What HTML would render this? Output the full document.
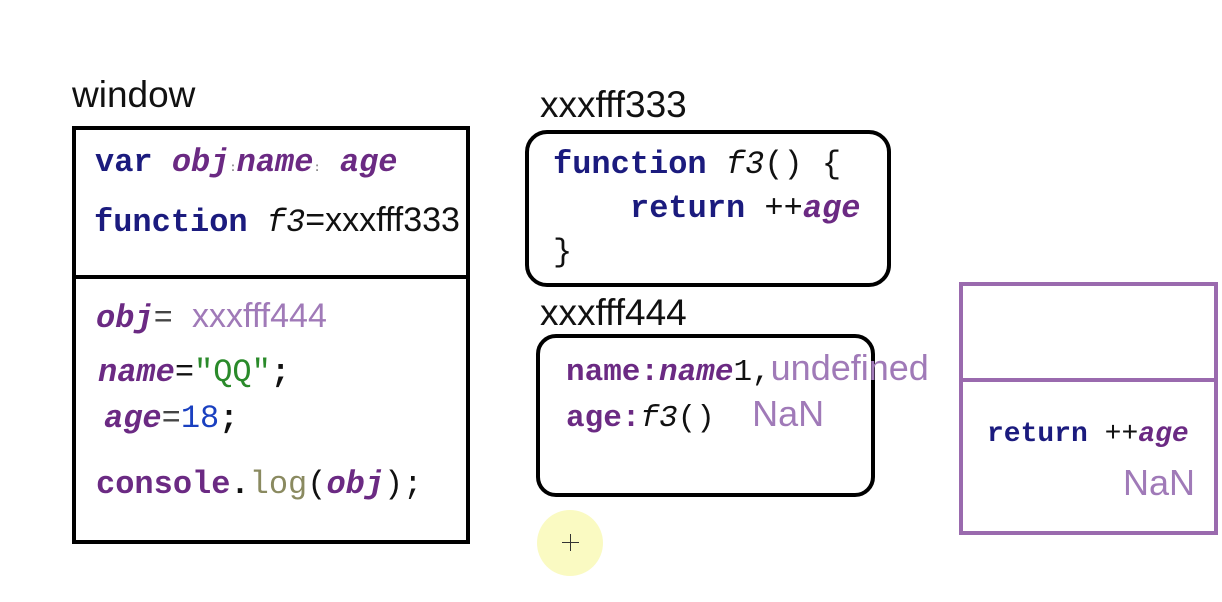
<!DOCTYPE html>
<html><head><meta charset="utf-8"><style>
body{margin:0;width:1222px;height:602px;background:#fff;position:relative;overflow:hidden;font-family:"Liberation Sans",sans-serif}
.a{position:absolute;white-space:pre}
.c{font-family:"Liberation Mono",monospace;font-weight:bold;font-size:32px;letter-spacing:0px}
.k{color:#1b1b7e}.v{color:#6b2a83;font-style:italic}.p{color:#6b2a83}
.l{color:#a07ab8;font-family:"Liberation Sans",sans-serif;font-weight:normal;font-size:34px;letter-spacing:0}
.s{font-family:"Liberation Sans",sans-serif;font-size:37px;color:#111;font-weight:normal;letter-spacing:0}
.box{position:absolute;border:4px solid #000;box-sizing:border-box}
</style></head><body>
<div class="a s" style="left:72px;top:74px;font-size:37px">window</div>
<div class="box" style="left:72px;top:126px;width:398px;height:418px"></div>
<div style="position:absolute;left:72px;top:275px;width:398px;height:4px;background:#000"></div>
<div class="a c" style="left:95px;top:144px"><span class="k">var</span> <span class="v">obj</span><span style="font-size:12px;color:#888">:</span><span class="v">name</span><span style="font-size:12px;color:#888">:</span> <span class="v">age</span></div>
<div class="a c" style="left:94px;top:201px"><span class="k">function</span> <span style="font-style:italic;font-weight:normal;color:#111">f3</span><span class="s" style="font-size:34px">=xxxfff333</span></div>
<div class="a c" style="left:96px;top:297px"><span class="v">obj</span><span style="color:#444;font-weight:normal">=</span> <span class="l">xxxfff444</span></div>
<div class="a c" style="left:98px;top:354px"><span class="v">name</span><span style="color:#111;font-weight:normal">=</span><span style="color:#2a8a2a;font-weight:normal">"QQ"</span><span style="color:#111">;</span></div>
<div class="a c" style="left:104px;top:400px"><span class="v">age</span><span style="font-weight:normal;color:#444">=</span><span style="color:#1a40c0;font-weight:normal">18</span><span style="color:#111">;</span></div>
<div class="a c" style="left:96px;top:466px"><span class="p">console</span><span style="color:#111">.</span><span style="color:#8a8a60;font-weight:normal">log</span><span style="color:#111;font-weight:normal">(</span><span class="v">obj</span><span style="color:#111;font-weight:normal">);</span></div>

<div class="a s" style="left:540px;top:84px">xxxfff333</div>
<div class="box" style="left:525px;top:130px;width:366px;height:157px;border-radius:22px"></div>
<div class="a c" style="left:553px;top:146px"><span class="k">function</span> <span style="font-style:italic;font-weight:normal;color:#111">f3</span><span style="font-weight:normal;color:#111">() {</span></div>
<div class="a c" style="left:630px;top:190px"><span class="k">return</span> <span style="color:#111;font-weight:normal">++</span><span class="v">age</span></div>
<div class="a c" style="left:553px;top:234px;font-weight:normal;color:#111">}</div>

<div class="a s" style="left:540px;top:292px">xxxfff444</div>
<div class="box" style="left:536px;top:334px;width:339px;height:163px;border-radius:20px"></div>
<div class="a c" style="left:566px;top:347px;font-size:31px"><span class="p">name:</span><span class="v">name</span><span style="color:#111;font-weight:normal">1,</span><span class="l" style="font-size:36px">undefined</span></div>
<div class="a c" style="left:566px;top:393px;font-size:31px"><span class="p">age:</span><span style="font-style:italic;font-weight:normal;color:#111">f3</span><span style="font-weight:normal;color:#111">()</span>  <span class="l" style="font-size:36px">NaN</span></div>

<div style="position:absolute;left:537px;top:510px;width:66px;height:66px;border-radius:50%;background:#fafac2"></div>
<div class="a" style="left:562px;top:542px;width:17px;height:1px;background:#333"></div>
<div class="a" style="left:570px;top:534px;width:1px;height:17px;background:#333"></div>

<div style="position:absolute;left:959px;top:282px;width:259px;height:253px;border:4px solid #9a6aae;box-sizing:border-box"></div>
<div style="position:absolute;left:959px;top:378px;width:259px;height:4px;background:#9a6aae"></div>
<div class="a c" style="left:987px;top:419px;font-size:28px"><span class="k">return</span> <span style="color:#111;font-weight:normal">++</span><span class="v">age</span></div>
<div class="a l" style="left:1123px;top:462px;font-size:36px">NaN</div>
</body></html>
